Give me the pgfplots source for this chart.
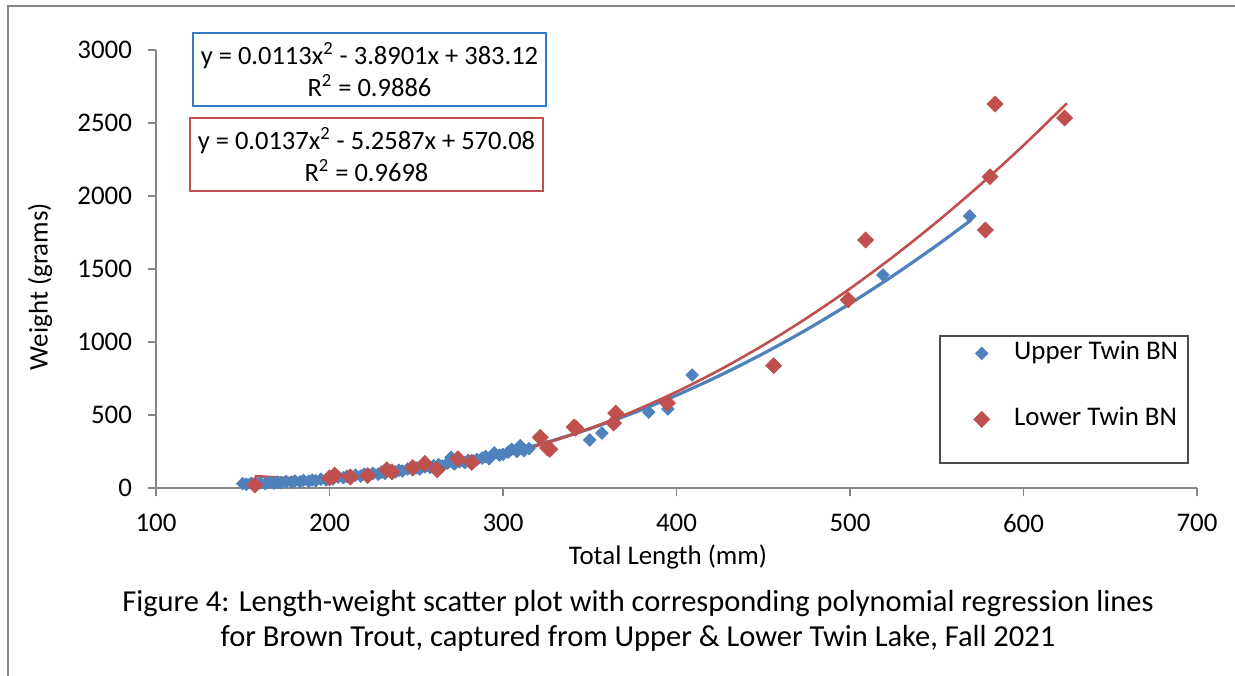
\documentclass[border=0pt]{standalone}
\usepackage{pgfplots}
\pgfplotsset{compat=1.18}
\usepackage{fontspec}
\setmainfont{Carlito}
\definecolor{ublue}{HTML}{4F81BD}
\definecolor{ured}{HTML}{C0504D}
\definecolor{boxblue}{HTML}{2F7BC4}
\definecolor{axgray}{HTML}{868686}
\pgfplotstableread{
x y
150 30
152 25
155 32
158 28
160 35
163 30
165 38
168 33
170 40
172 36
175 45
178 40
180 48
183 42
185 52
188 46
190 55
192 50
195 60
198 55
200 68
202 62
205 75
208 70
210 80
212 74
215 88
218 82
220 95
222 88
225 100
228 94
230 108
232 100
235 115
238 110
240 122
242 116
245 130
248 124
250 138
252 130
255 145
258 140
260 152
263 160
265 150
268 170
270 210
272 165
275 180
278 175
280 190
283 185
285 195
288 205
290 215
292 200
295 240
298 225
300 230
303 245
305 265
308 250
310 290
312 255
315 270
326 272
350 329
357 376
384 520
395 541
409 774
519 1459
569 1863
}\uppertab
\pgfplotstableread{
x y
157 20
200 70
203 88
212 75
222 85
233 125
236 110
248 140
255 168
262 125
274 200
282 175
321.5 347
325.7 274
327 265
341 418
342 410
363.7 445
365 513
394.8 582
456 838
499 1288
509 1699
578 1767
580.7 2132
583.6 2630
623.7 2534
}\lowertab
\begin{document}
\begin{tikzpicture}
\useasboundingbox (0,0) rectangle (617.5bp,338bp);
\draw[axgray, line width=1bp] (4bp,0) -- (4bp,335bp) -- (617.5bp,335bp);
\begin{axis}[
  at={(78bp,94bp)}, anchor=south west,
  scale only axis, width=520.5bp, height=219bp,
  xmin=100, xmax=700, ymin=0, ymax=3000,
  xtick={100,200,...,700}, ytick={0,500,...,3000},
  axis lines=left, axis line style={axgray, line width=0.8bp, -},
  tick align=outside, major tick length=4bp,
  tick style={axgray, line width=0.8bp},
  xtick pos=bottom, ytick pos=left,
  /pgf/number format/assume math mode=true,
  /pgf/number format/1000 sep={},
  ticklabel style={font=\fontsize{13.5}{15}\selectfont},
  xticklabel style={yshift=-5.5bp},
  yticklabel style={xshift=-4.5bp},
  xlabel={Total Length (mm)}, ylabel={Weight (grams)},
  every axis x label/.style={at={(rel axis cs:0.4918,-0.1575)}, anchor=center, font=\fontsize{13.5}{15}\selectfont},
  every axis y label/.style={at={(rel axis cs:-0.1114,0.46)}, anchor=center, rotate=90, font=\fontsize{13.5}{15}\selectfont},
  clip=false,
  legend image code/.code={\draw[#1] plot coordinates {(8bp,0bp)}; \path (0bp,0bp) (16bp,0bp);},
  legend style={at={(rel axis cs:0.7771,0.331)}, anchor=north west, draw=none, fill=none,
    font=\fontsize{13.5}{15}\selectfont, row sep=23bp, column sep=8bp, inner sep=0pt,
    nodes={inner sep=0pt, text height=8bp, text depth=2bp}},
  legend cell align=left,
]
\addplot[only marks, mark=square*, mark size=2.2bp, mark options={rotate=45, fill=ublue, draw=ublue}] table {\uppertab};
\addlegendentry{Upper Twin BN}
\addplot[only marks, mark=square*, mark size=2.8bp, mark options={rotate=45, fill=ured, draw=ured}] table {\lowertab};
\addlegendentry{Lower Twin BN}
\addplot[ublue, line width=1.6bp, smooth, forget plot] coordinates {(150,53.86)(175,48.42)(200,57.1)(225,79.91)(250,116.85)(275,167.91)(300,233.09)(325,312.4)(350,405.84)(375,513.4)(400,635.08)(425,770.89)(450,920.83)(475,1084.89)(500,1263.07)(525,1455.38)(550,1661.82)(570,1837.13)};
\addplot[ured, line width=1.3bp, smooth, forget plot] coordinates {(157,82.15)(175,69.37)(200,66.34)(225,80.44)(250,111.66)(275,160.0)(300,225.47)(325,308.07)(350,407.79)(375,524.63)(400,658.6)(425,809.7)(450,977.92)(475,1163.26)(500,1365.73)(525,1585.33)(550,1822.05)(575,2075.89)(600,2346.86)(625,2634.96)};
\draw[black!70, line width=0.6bp] (rel axis cs:0.7531,0.347) rectangle (rel axis cs:0.9914,0.0571);
\end{axis}
\node[draw=boxblue, line width=0.8bp, minimum width=176.5bp, minimum height=36.5bp, align=center, inner sep=0pt, font=\fontsize{13.3}{16}\selectfont] at (184.75bp,303.25bp) {y = 0.0113x\textsuperscript{2} - 3.8901x + 383.12\\R\textsuperscript{2} = 0.9886};
\node[draw=ured, line width=0.8bp, minimum width=176.5bp, minimum height=36.5bp, align=center, inner sep=0pt, font=\fontsize{13.3}{16}\selectfont] at (183.25bp,260.75bp) {y = 0.0137x\textsuperscript{2} - 5.2587x + 570.08\\R\textsuperscript{2} = 0.9698};
\node[align=center, font=\fontsize{15.3}{17.5}\selectfont] at (319bp,27.75bp) {Figure 4: Length-weight scatter plot with corresponding polynomial regression lines\\for Brown Trout, captured from Upper \& Lower Twin Lake, Fall 2021};
\end{tikzpicture}
\end{document}
